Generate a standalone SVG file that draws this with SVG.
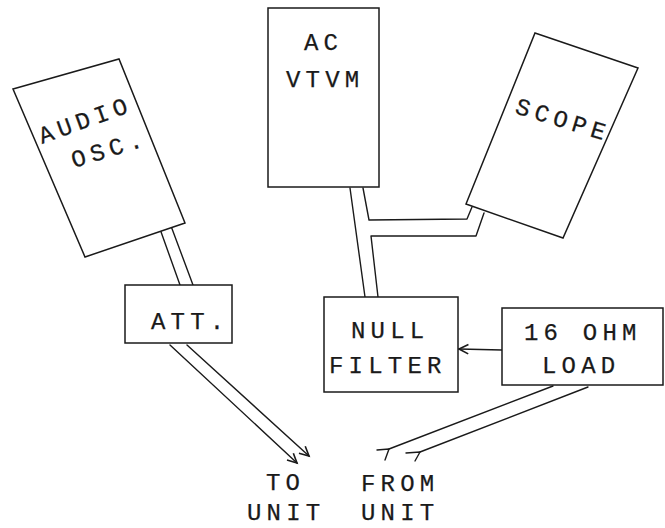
<svg xmlns="http://www.w3.org/2000/svg" width="665" height="528" viewBox="0 0 665 528">
<defs>
<style>
.box{fill:#fff;stroke:#1a1a1a;stroke-width:1.5;stroke-linejoin:miter}
.ln{fill:none;stroke:#1a1a1a;stroke-width:1.4;stroke-linecap:round;stroke-linejoin:round}
.t{font-family:"Liberation Mono","DejaVu Sans Mono",monospace;font-size:24px;letter-spacing:5.2px;fill:#1a1a1a;stroke:#1a1a1a;stroke-width:0.25}
</style>
<marker id="arr" markerUnits="userSpaceOnUse" markerWidth="14" markerHeight="14" viewBox="-10 -6 12 12" refX="0" refY="0" orient="auto">
<path d="M-8,-4 L0,0 L-8,4" fill="none" stroke="#1a1a1a" stroke-width="1.4"/>
</marker>
</defs>
<rect width="665" height="528" fill="#fff"/>

<g id="connectors">
<path class="ln" d="M160,229 L180,285"/>
<path class="ln" d="M171,226 L193,285"/>
<path class="ln" d="M350,188 L365,297"/>
<path class="ln" d="M363,188 L369,220 L467,219 L472,207"/>
<path class="ln" d="M378,297 L371,236 L476,236 L484,213"/>
<path class="ln" d="M170,345 L297,463" marker-end="url(#arr)"/>
<path class="ln" d="M187,345 L309,456" marker-end="url(#arr)"/>
<path class="ln" d="M502,350 L459,349" marker-end="url(#arr)"/>
<path class="ln" d="M553,386 L389,449"/>
<path class="ln" d="M377,450 L389,449 L385,460"/>
<path class="ln" d="M588,387 L420,452"/>
<path class="ln" d="M406,453 L420,452 L415,461"/>
</g>

<g id="audio-osc">
<polygon class="box" points="13,89 119,59 185,223 85,257"/>
<text class="t" transform="translate(42,144) rotate(-20)">AUDIO</text>
<text class="t" transform="translate(74,168) rotate(-17)">OSC.</text>
</g>

<g id="ac-vtvm">
<rect class="box" x="268" y="8" width="111" height="179"/>
<text class="t" x="304" y="50">AC</text>
<text class="t" x="286" y="87">VTVM</text>
</g>

<g id="scope">
<polygon class="box" points="535,33 638,68 563,238 466,204"/>
<text class="t" transform="translate(514,113) rotate(17)">SCOPE</text>
</g>

<g id="att">
<rect class="box" x="125" y="285" width="107" height="58"/>
<text class="t" x="151" y="329">ATT.</text>
</g>

<g id="null-filter">
<rect class="box" x="324" y="297" width="134" height="95"/>
<text class="t" x="351" y="338">NULL</text>
<text class="t" x="329" y="373">FILTER</text>
</g>

<g id="load">
<rect class="box" x="502" y="308" width="161" height="77"/>
<text class="t" x="524" y="340">16 OHM</text>
<text class="t" x="542" y="373">LOAD</text>
</g>

<g id="to-unit">
<text class="t" x="266" y="490">TO</text>
<text class="t" x="247" y="520">UNIT</text>
</g>

<g id="from-unit">
<text class="t" x="361" y="491">FROM</text>
<text class="t" x="361" y="520">UNIT</text>
</g>
</svg>
